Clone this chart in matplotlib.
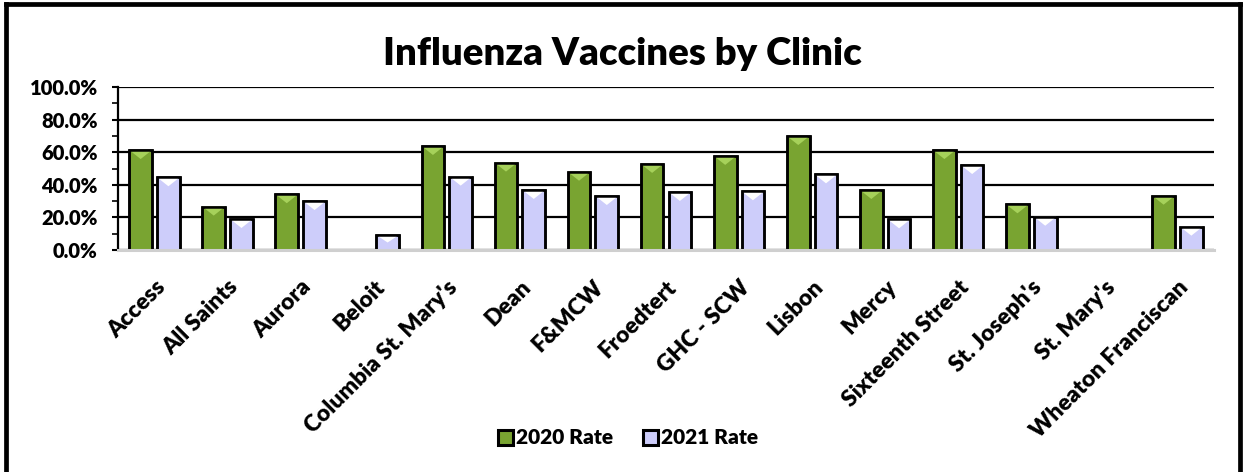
import matplotlib
matplotlib.use("Agg")
import matplotlib.pyplot as plt
import numpy as np
from matplotlib.lines import Line2D
from matplotlib.patches import Patch, Polygon
from matplotlib.ticker import MultipleLocator, FuncFormatter

clinics = ["Access", "All Saints", "Aurora", "Beloit", "Columbia St. Mary's", "Dean",
           "F&MCW", "Froedtert", "GHC - SCW", "Lisbon", "Mercy", "Sixteenth Street",
           "St. Joseph's", "St. Mary's", "Wheaton Franciscan"]
rate_2020 = [61.3, 26.6, 34.2, np.nan, 63.8, 53.6, 48.0, 52.8, 57.7, 69.9, 36.8, 61.3, 28.0, np.nan, 33.3]
rate_2021 = [44.6, 19.0, 30.0, 9.2, 45.0, 36.8, 33.1, 35.6, 36.0, 46.4, 18.8, 52.1, 20.4, np.nan, 14.3]
series_labels = ["2020 Rate", "2021 Rate"]

FONT = ["Lato", "DejaVu Sans"]
plt.rcParams['font.family'] = FONT
WEIGHT = "heavy"

green = "#79A431"
green_hi = "#A6D15A"
lav = "#CDCDFA"
lav_hi = "#FFFFFF"

W_PX, H_PX = 1244, 472
fig = plt.figure(figsize=(W_PX / 100, H_PX / 100), dpi=100)
ax = fig.add_axes([118 / W_PX, 1 - 250 / H_PX, (1214 - 118) / W_PX, (250 - 87) / H_PX])

x = np.arange(len(clinics))
w = 0.31
off = 0.19


def draw_series(xpos, vals, face, hi):
    bars = ax.bar(xpos, vals, width=w, color=face, edgecolor="black", linewidth=1.8, zorder=3)
    # light triangular highlight at the bar top (bevel look)
    for b in bars:
        h = b.get_height()
        if not np.isfinite(h) or h <= 0:
            continue
        x0, bw = b.get_x(), b.get_width()
        th = min(5.5, h * 0.5)
        tri = Polygon([[x0, h], [x0 + bw, h], [x0 + bw / 2, h - th]], closed=True,
                      facecolor=hi, edgecolor="none", zorder=3.5)
        ax.add_patch(tri)
        ax.bar(b.get_x() + bw / 2, h, width=bw, facecolor="none", edgecolor="black",
               linewidth=1.8, zorder=4)


draw_series(x - off, rate_2020, green, green_hi)
draw_series(x + off, rate_2021, lav, lav_hi)

ax.set_xlim(-0.5, len(clinics) - 0.5)
ax.set_ylim(0, 100)
ax.yaxis.set_major_locator(MultipleLocator(20))
ax.yaxis.set_minor_locator(MultipleLocator(10))
ax.yaxis.set_major_formatter(FuncFormatter(lambda v, p: f"{v:.1f}%"))
ax.grid(axis="y", which="major", color="black", linewidth=1.6, zorder=0)
ax.set_axisbelow(True)

for s in ["top", "right"]:
    ax.spines[s].set_visible(False)
ax.spines["left"].set_linewidth(1.6)
ax.spines["bottom"].set_color("#CFCFCF")
ax.spines["bottom"].set_linewidth(2.2)
ax.spines["bottom"].set_zorder(5)

ax.tick_params(axis="y", which="major", length=4.5, width=1.5, labelsize=14.5, pad=10)
ax.tick_params(axis="y", which="minor", length=4, width=1.2)
ax.tick_params(axis="x", length=0, pad=19)
ax.set_xticks(x)
ax.set_xticklabels(clinics, rotation=45, ha="right", va="top", rotation_mode="anchor",
                   fontsize=16.5, fontweight=WEIGHT)
for t in ax.get_yticklabels():
    t.set_fontweight(WEIGHT)

fig.text(0.5, 1 - 65 / H_PX, "Influenza Vaccines by Clinic", ha="center", va="baseline",
         fontsize=27.5, fontweight=WEIGHT)

handles = [Patch(facecolor=green, edgecolor="black", linewidth=2.2),
           Patch(facecolor=lav, edgecolor="black", linewidth=2.2)]
fig.legend(handles, series_labels, loc="center", bbox_to_anchor=(628 / W_PX, 1 - 438 / H_PX), ncol=2,
           frameon=False, prop={"weight": WEIGHT, "size": 15}, handlelength=0.75,
           handleheight=0.75, handletextpad=0.15, columnspacing=1.4, borderpad=0)

# outer frame (bottom edge cut off in the reference)
lw = 3.4
xl, xr, yt = 5.5 / W_PX, 1239.5 / W_PX, 1 - 3.5 / H_PX
fig.add_artist(Line2D([xl, xl], [0, yt], transform=fig.transFigure, color="black", lw=lw))
fig.add_artist(Line2D([xl, xr], [yt, yt], transform=fig.transFigure, color="black", lw=lw,
                      solid_capstyle="projecting"))
fig.add_artist(Line2D([xr, xr], [0, yt], transform=fig.transFigure, color="black", lw=lw))

fig.savefig("out.png", dpi=100)
